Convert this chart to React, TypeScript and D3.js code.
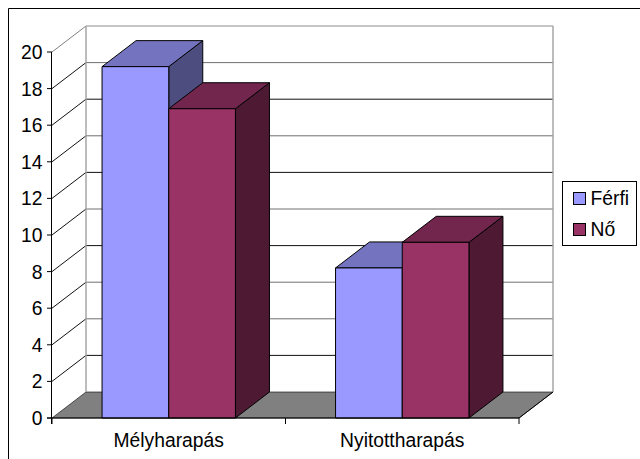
import React from "react";
import * as d3 from "d3";

const categories = ["Mélyharapás", "Nyitottharapás"];
const seriesNames = ["Férfi", "Nő"];
const ferfiValues = [19.2, 8.2];
const noValues = [16.9, 9.6];
const yTicks = [0, 2, 4, 6, 8, 10, 12, 14, 16, 18, 20];
const frontColors = ["#9999ff", "#993366"];
const topColors = ["#7373bf", "#73264d"];
const sideColors = ["#4d4d80", "#4d1933"];

const width = 640;
const height = 459;
const depthX = 34;
const depthY = -26;
const font = "'Liberation Sans', Arial, sans-serif";
const labelSize = 19.3;

const y = d3.scaleLinear().domain([0, 20]).range([418, 52]);
const xBand = d3.scaleBand<string>().domain(categories).range([52, 519]);
const barWidth = 66.7;
const pts = (p: [number, number][]) => p.map((q) => q.join(",")).join(" ");

// Horizontal rules on the back wall vary in weight, so each tick gets its own shade.
const wallRuleColor = (t: number) =>
  [16, 12, 8, 2].includes(t) ? "#111111" : t === 20 ? "#8c8c8c" : "#707070";

function Bar({ x0, value, s }: { x0: number; value: number; s: number }) {
  const x1 = x0 + barWidth;
  const top = y(value);
  const base = y(0);
  return (
    <g stroke="#000" strokeWidth={1} strokeLinejoin="round">
      <polygon
        points={pts([[x1, top], [x1 + depthX, top + depthY], [x1 + depthX, base + depthY], [x1, base]])}
        fill={sideColors[s]}
      />
      <polygon
        points={pts([[x0, top], [x0 + depthX, top + depthY], [x1 + depthX, top + depthY], [x1, top]])}
        fill={topColors[s]}
      />
      <rect x={x0} y={top} width={barWidth} height={base - top} fill={frontColors[s]} />
    </g>
  );
}

export default function App() {
  const base = y(0);
  const right = xBand.range()[1];
  const barStart = (c: string) => xBand(c)! + (xBand.bandwidth() - 2 * barWidth) / 2;
  const series = [ferfiValues, noValues];
  return (
    <svg
      width={width}
      height={height}
      viewBox={`0 0 ${width} ${height}`}
      style={{ position: "absolute", left: 0, top: 0, display: "block", background: "#fff" }}
    >
      {/* outer chart frame, cut off by the page at right and bottom */}
      <path d={`M8.5 ${height} V8.5 H${width}`} fill="none" stroke="#000" />

      {/* floor */}
      <polygon
        points={pts([[52, base], [52 + depthX, base + depthY], [right + depthX, base + depthY], [right, base]])}
        fill="#808080"
        stroke="#000"
        strokeWidth={0.6}
      />

      {/* back wall */}
      {yTicks.map((t) => (
        <g key={t}>
          {t > 0 && (
            <line
              x1={52 + depthX}
              x2={right + depthX}
              y1={y(t) + depthY}
              y2={y(t) + depthY}
              stroke={wallRuleColor(t)}
            />
          )}
          {t > 0 && (
            <line
              x1={52}
              x2={52 + depthX}
              y1={y(t)}
              y2={y(t) + depthY}
              stroke={t === 20 ? "#808080" : "#111111"}
            />
          )}
        </g>
      ))}
      <line x1={86} x2={86} y1={y(20) + depthY} y2={base + depthY} stroke="#a0a0a0" strokeWidth={1.4} />
      <line
        x1={right + depthX}
        x2={right + depthX}
        y1={y(20) + depthY}
        y2={base + depthY}
        stroke="#a0a0a0"
        strokeWidth={1.4}
      />

      {/* bars, drawn back to front so the second series overlaps the first */}
      {categories.map((c, i) =>
        series.map((values, s) => (
          <Bar key={c + s} x0={barStart(c) + s * barWidth} value={values[i]} s={s} />
        ))
      )}

      {/* floor front edges and axes */}
      <line x1={47} x2={right} y1={base} y2={base} stroke="#000" />
      <line x1={right} x2={right + depthX} y1={base} y2={base + depthY} stroke="#000" />
      <line x1={51.5} x2={51.5} y1={y(20)} y2={base + 6} stroke="#000" />
      {yTicks.map((t) => (
        <g key={t}>
          <line x1={47} x2={52} y1={y(t)} y2={y(t)} stroke="#000" />
          <text x={42.5} y={y(t) + 7} textAnchor="end" fontFamily={font} fontSize={labelSize} fill="#000">
            {t}
          </text>
        </g>
      ))}
      {[52, 52 + xBand.bandwidth(), right].map((x) => (
        <line key={x} x1={x} x2={x} y1={base} y2={base + 6} stroke="#000" />
      ))}
      {categories.map((c) => (
        <text
          key={c}
          x={xBand(c)! + xBand.bandwidth() / 2}
          y={447}
          textAnchor="middle"
          fontFamily={font}
          fontSize={labelSize}
          fill="#000"
        >
          {c}
        </text>
      ))}

      {/* legend */}
      <rect x={562.5} y={181.5} width={74} height={64} fill="#fff" stroke="#000" />
      {seriesNames.map((name, s) => (
        <g key={name}>
          <rect x={573.5} y={192.5 + s * 31} width={12} height={12} fill={frontColors[s]} stroke="#000" />
          <text x={590.5} y={205 + s * 31} fontFamily={font} fontSize={labelSize} fill="#000">
            {name}
          </text>
        </g>
      ))}
    </svg>
  );
}
